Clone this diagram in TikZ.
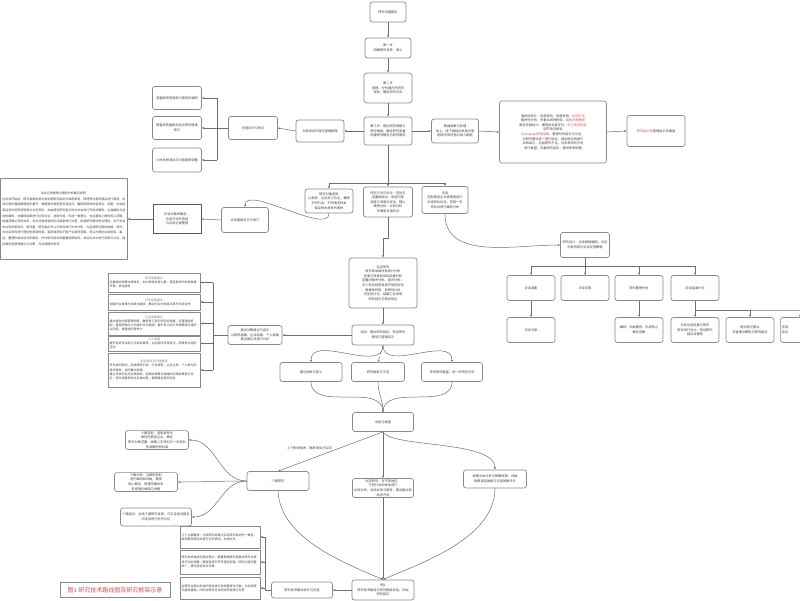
\documentclass[tikz,border=0pt]{standalone}
\usepackage{fontspec}
\setmainfont{Noto Sans CJK SC}
\XeTeXlinebreaklocale "zh"
\XeTeXlinebreakskip=0pt
\usetikzlibrary{arrows.meta}
\definecolor{lc}{HTML}{6E6E6E}
\definecolor{bc}{HTML}{8A8A8A}
\definecolor{rt}{HTML}{E04B4B}
\begin{document}
\begin{tikzpicture}[x=1pt,y=-1pt,
 box/.style={draw=bc,line width=0.7pt,rounded corners=2.5pt,fill=white,align=center,inner sep=1pt,text=black!75,font=\fontsize{3.2}{4.6}\selectfont},
 sq/.style={draw=bc,line width=0.6pt,fill=white,align=left,inner sep=1.5pt,text=black!75,font=\fontsize{3}{4.2}\selectfont},
 lbl/.style={inner sep=0.5pt,text=black!75,font=\fontsize{3.2}{4.6}\selectfont},
 ln/.style={draw=lc,line width=0.5pt},
 arr/.style={ln,-{Latex[length=2.2pt,width=2pt]}}]
\fill[white] (0,0) rectangle (800,600);
\useasboundingbox (0,0) rectangle (800,600);

% ---------- main column top ----------
\node[box,minimum width=36pt,minimum height=20pt,text width=32pt] (n1) at (388,12) {研究问题提出};
\node[box,minimum width=46pt,minimum height=20pt,text width=42pt] (n2) at (388,48) {第一步\\明确研究背景、意义};
\node[box,minimum width=48pt,minimum height=30pt,text width=45pt] (n3) at (388,88) {第二步\\梳理、分析国内外研究\\现状，确定研究方向};
\node[box,minimum width=48pt,minimum height=28pt,text width=45pt] (n4) at (388,131) {第三步：提出研究思路与\\理论框架，确定研究变量\\构建研究模型与研究假设};

% ---------- left chain ----------
\node[box,minimum width=48pt,minimum height=22pt,text width=44pt] (n5) at (320,131) {文献综述与理论基础梳理};
\node[box,minimum width=49pt,minimum height=23pt,text width=45pt] (n6) at (253,128) {问卷设计与修正};
\node[box,minimum width=49pt,minimum height=23pt,text width=46pt] (L1) at (177,98) {测量题项来源及问卷初步编制};
\node[box,minimum width=49pt,minimum height=23pt,text width=46pt] (L2) at (177,128) {借鉴成熟量表并结合研究情境\\修订};
\node[box,minimum width=49pt,minimum height=24pt,text width=46pt] (L3) at (177,160) {小样本预测试与问卷题项调整};

% ---------- right chain ----------
\node[box,minimum width=47pt,minimum height=24pt,text width=45pt] (n7) at (455,131) {数据收集与处理\\线上、线下相结合发放问卷\\剔除无效问卷后录入数据};
\node[box,minimum width=107pt,minimum height=62pt,text width=102pt] (n8) at (553,132) {描述性统计、信度检验、效度检验、\textcolor{rt}{共同方法}\\相关性分析、多重共线性检验，\textcolor{rt}{结构方程模型}\\路径系数估计，模型拟合度评价，\textcolor{rt}{中介效应检验}\\调节效应检验\\\textcolor{rt}{Bootstrap检验结果}，整理分析结论与讨论，\\对研究假设逐一进行验证，提出理论贡献与\\实践启示，总结研究不足，对未来研究方向\\进行展望，完善研究结论，提供参考依据};
\node[box,minimum width=58pt,minimum height=31pt,text width=55pt] (n9) at (656,131) {\textcolor{rt}{研究结论}与管理启示及展望};

% ---------- second level ----------
\node[box,minimum width=48pt,minimum height=24pt,text width=46pt] (A) at (329,201) {研究对象选取\\以高校、企业员工为主，兼顾\\不同行业、不同地区样本\\保证样本具有代表性};
\node[box,minimum width=49pt,minimum height=30pt,text width=47pt] (B) at (388,202) {研究方法与设计：定性与\\定量相结合，采用问卷\\调查与深度访谈法，辅以\\案例分析、比较分析\\多维度互相印证};
\node[box,minimum width=46pt,minimum height=27pt,text width=44pt] (C) at (445,200) {访谈\\选取典型企业管理者进行\\半结构化访谈，获取一手\\资料并进行编码分析};
\node[box,minimum width=47pt,minimum height=25pt,text width=44pt] (D) at (245,220) {访谈提纲设计与修订};
\node[draw=black!65,line width=0.9pt,fill=white,align=center,inner sep=1pt,text=black!75,font=\fontsize{3.2}{4.6}\selectfont,minimum width=48pt,minimum height=29pt,text width=45pt] (E) at (177,219) {访谈对象的确定、访谈方式的选择\\与访谈记录整理};
\node[sq,anchor=north west,minimum width=127pt,minimum height=81pt,text width=123pt,font=\fontsize{3}{5.6}\selectfont] (F) at (0,178) {\hfill 访谈记录整理与编码分析要点说明 \hfill\null\\在访谈开始前，研究者需向受访者说明研究目的与保密原则，取得受访者同意后进行录音。访谈过程中围绕提纲逐步展开，根据受访者回答灵活追问，确保获取的信息真实、完整。访谈结束后及时将录音转录为文字资料，并由两名研究者分别对文本进行开放式编码、主轴编码与选择性编码，对编码结果进行比较讨论，消除分歧，形成一致意见。在此基础上提炼核心范畴，构建范畴之间的关系，并与问卷调查的实证结果进行对照，检验研究假设的合理性。对于访谈中出现的新观点、新问题，研究者应予以记录并进行补充分析，为后续研究提供依据。同时，对访谈资料进行理论饱和度检验，若新增资料不再产生新的范畴，则认为理论达到饱和。最后，整理形成访谈分析报告，作为研究结论的重要支撑材料，并在论文中进行说明与讨论，提出相应的管理建议与对策，为实践提供参考。};

% ---------- interview tree ----------
\node[box,minimum width=49pt,minimum height=25pt,text width=46pt] (H) at (585,245) {研究设计：访谈提纲编制，访谈\\对象选取与访谈实施策略};
\node[box,minimum width=48pt,minimum height=25pt,text width=45pt] (c1) at (531,288) {访谈准备};
\node[box,minimum width=48pt,minimum height=25pt,text width=45pt] (c2) at (585,288) {访谈实施};
\node[box,minimum width=48pt,minimum height=25pt,text width=45pt] (c3) at (639,288) {资料整理分析};
\node[box,minimum width=48pt,minimum height=25pt,text width=45pt] (c4) at (695,288) {访谈结果讨论};
\node[box,minimum width=48pt,minimum height=25pt,text width=45pt] (d1) at (531,330) {访谈记录};
\node[box,minimum width=48pt,minimum height=25pt,text width=45pt] (d3) at (639,330) {编码、归纳提炼，形成核心\\概念范畴};
\node[box,minimum width=48pt,minimum height=25pt,text width=45pt] (d4) at (695,330) {分析访谈结果与研究\\假设进行对比，验证研究\\结论合理性};
\node[box,minimum width=48pt,minimum height=25pt,text width=45pt] (d5) at (750,330) {提出修正建议\\完善理论模型与研究结论};
\node[box,anchor=west,minimum width=48pt,minimum height=25pt,text width=45pt,align=left] (d6) at (780,330) {形成\\结论};

% ---------- empirical part ----------
\node[box,minimum width=68pt,minimum height=50pt,text width=65pt] (G) at (383,283) {实证研究\\研究样本描述性统计分析\\信度与效度检验及结果分析\\变量间相关分析、回归分析、\\中介效应检验及调节效应检验\\稳健性检验、异质性分析\\内生性讨论、结果汇总说明\\研究结论与假设验证};
\node[box,minimum width=62pt,minimum height=20pt,text width=60pt] (I) at (383,335) {结论：提出研究结论、验证研究\\假设与管理启示};
\node[box,minimum width=54pt,minimum height=19pt,text width=52pt] (J) at (255,335) {提出对策建议与启示\\从政府层面、企业层面、个人层面\\提出建议并进行讨论};
\node[sq,minimum width=92pt,minimum height=19pt,text width=89pt] (S1) at (154,282.5) {\hfill{\color{black!50}政府层面建议}\hfill\null\\完善相关政策法规体系，加大财政支持力度，营造良好的外部发展环境，优化服务};
\node[sq,minimum width=92pt,minimum height=16pt,text width=89pt] (S2) at (154,302) {\hfill{\color{black!50}行业层面建议}\hfill\null\\加强行业自律与标准化建设，推动行业内信息共享与交流合作};
\node[sq,minimum width=92pt,minimum height=23pt,text width=89pt] (S3) at (154,323.5) {\hfill{\color{black!50}企业层面建议}\hfill\null\\建立健全内部管理制度，重视员工培训与职业发展，完善激励机制，营造积极向上的组织文化氛围，提升员工的工作满意度与组织认同感，增强组织竞争力};
\node[sq,minimum width=92pt,minimum height=15pt,text width=89pt] (S4) at (154,343.5) {\hfill{\color{black!50}个人层面}\hfill\null\\提升自身专业能力与综合素质，主动适应环境变化，积极参与组织活动};
\node[sq,minimum width=92pt,minimum height=34pt,text width=89pt] (S5) at (154,370) {\hfill{\color{black!50}综合建议与实施路径}\hfill\null\\多方协同联动，形成政府引导、行业规范、企业主导、个人参与的良好格局，共同推动发展。\\建立长效评估与反馈机制，定期对政策与措施的实施效果进行评价，及时调整和优化实施方案，保障建议落实到位};

\node[box,minimum width=62pt,minimum height=19pt,text width=59pt] (K1) at (311,372) {理论贡献与意义};
\node[box,minimum width=53pt,minimum height=19pt,text width=50pt] (K2) at (378,372) {研究局限与不足};
\node[box,minimum width=61pt,minimum height=19pt,text width=59pt] (K3) at (452,372) {未来研究展望、进一步研究方向};
\node[box,minimum width=61pt,minimum height=19pt,text width=58pt] (L) at (383,422) {总结与展望};

% ---------- lower part ----------
\node[box,minimum width=62pt,minimum height=19pt,text width=59pt] (N) at (278,481) {个案研究};
\node[box,minimum width=63pt,minimum height=17pt,text width=61pt] (O1) at (157,440) {个案选取：选取具有代表性的典型企业，确定\\研究对象范围，收集二手资料与一手资料\\形成案例资料库};
\node[box,minimum width=63pt,minimum height=18pt,text width=61pt] (O2) at (146,482) {个案分析：对案例资料进行编码和归纳，提炼\\核心概念，梳理范畴关系\\形成理论框架与命题};
\node[box,minimum width=71pt,minimum height=18pt,text width=69pt] (O3) at (156,517) {个案结论：总结个案研究发现，与实证结论相互\\印证并进行补充讨论};
\node[box,minimum width=61pt,minimum height=19pt,text width=59pt] (P) at (383,488) {比较研究：对不同地区、不同行业的样本进行\\比较分析，总结共性与差异，提出建议和\\改进方向};
\node[box,minimum width=63pt,minimum height=18pt,text width=61pt] (Q) at (495,479) {政策文本分析与政策梳理，归纳\\政策演变脉络与实施效果评价};
\node[box,minimum width=62pt,minimum height=20pt,text width=60pt] (R) at (383,590) {图1\\研究技术路线与研究框架总结，归纳\\研究结论};
\node[box,minimum width=61pt,minimum height=16pt,text width=59pt] (S) at (302,590) {研究技术路线设计与实施};
\node[sq,minimum width=80pt,minimum height=22pt,text width=77pt] (T1) at (220,537) {几个主要要求：比较研究结果与实证研究结论的一致性，梳理差异原因并进行讨论说明，形成补充};
\node[sq,minimum width=80pt,minimum height=24pt,text width=77pt] (T2) at (220,562) {研究技术路线实施过程中，需要根据研究进展对研究方案进行动态调整，确保各研究环节相互衔接，研究内容完整统一，研究结论科学可靠};
\node[sq,minimum width=80pt,minimum height=22pt,text width=77pt] (T3) at (220,588) {对研究过程中形成的资料进行系统整理与归档，为后续研究提供基础，同时对研究方法的适用性进行反思};
\node[draw=bc,line width=0.5pt,fill=white,inner sep=1pt,text=rt,font=\fontsize{6}{7}\selectfont,minimum width=110pt,minimum height=15pt] (U) at (115,590) {图1 研究技术路线图及研究框架示意};

% ================= connectors =================
\draw[arr] (n1.south) -- (n2.north);
\draw[arr] (n2.south) -- (n3.north);
\draw[arr] (n3.south) -- (n4.north);
\draw[arr] (n4.west) -- (n5.east);
\draw[arr] (n5.west) -- (n6.east);
\coordinate (b1) at (217,128);
\coordinate (b1t) at (217,98);
\coordinate (b1b) at (217,160);
\draw[ln] (n6.west) -- (b1);
\draw[ln] (b1t) -- (b1b);
\draw[arr] (b1t) -- (L1.east);
\draw[arr] (b1) -- (L2.east);
\draw[arr] (b1b) -- (L3.east);
\draw[arr] (n4.east) -- (n7.west);
\draw[arr] (n7.east) -- (n8.west);
\draw[arr] (n8.east) -- (n9.west);

\coordinate (t0) at (388,183);
\draw[ln] (n4.south) -- (t0);
\draw[arr] (t0) -| (A.north);
\draw[arr] (t0) -- (B.north);
\draw[arr] (t0) -| (C.north);
\draw[arr] (A.south) .. controls (329,236) and (245,184) .. (D.north);
\draw[arr] (D.west) -- (E.east);
\draw[arr] (E.west) -- (F.east |- E.west);

\coordinate (bg) at (388,238);
\draw[arr] (B.south) -- (bg) -| (G.north);
\draw[arr] (C.south) to[out=-90,in=180] (H.west);

\coordinate (h0) at (585,266);
\coordinate (hl) at (531,266);
\coordinate (h3) at (639,266);
\coordinate (hr) at (695,266);
\draw[ln] (H.south) -- (h0);
\draw[ln] (hl) -- (hr);
\draw[arr] (hl) -- (c1.north);
\draw[arr] (h0) -- (c2.north);
\draw[arr] (h3) -- (c3.north);
\draw[arr] (hr) -- (c4.north);
\draw[arr] (c1.south) -- (d1.north);
\draw[arr] (c3.south) -- (d3.north);
\coordinate (r4) at (695,310);
\coordinate (r5) at (750,310);
\coordinate (r6) at (800,310);
\draw[ln] (c4.south) -- (r4) -- (r6) -- ++(30,0);
\draw[arr] (r4) -- (d4.north);
\draw[arr] (r5) -- (d5.north);
\draw[arr] (r6) -- (r6 |- d6.north);

\draw[arr] (G.south) -- (I.north);
\draw[arr] (I.west) -- (J.east);
\coordinate (jb) at (213,335);
\draw[ln] (J.west) -- (jb);
\draw[ln] (jb |- S1.east) -- (jb |- S5.east);
\foreach \s in {S1,S2,S3,S4,S5} \draw[arr] (jb |- \s.east) -- (\s.east);

\draw[arr] (I.south) to[out=-90,in=90] (K1.north);
\draw[arr,dashed] (I.south) -- (K2.north);
\draw[arr] (I.south) to[out=-90,in=90] (K3.north);
\draw[ln] (K1.south) to[out=-90,in=90] (L.north);
\draw[arr] (K2.south) to[out=-90,in=90] (L.north);
\draw[ln] (K3.south) to[out=-90,in=90] (L.north);

\draw[arr] (L.south) -- (N.north) node[lbl,pos=0.48,above left=0pt] (M) {上下影响相关，都影响后方实际};
\draw[arr] (L.south) -- (P.north);
\draw[arr] (L.south) .. controls (392,448) and (495,440) .. (Q.north);
\draw[arr] (N.west) to[out=180,in=0] (O1.east);
\draw[arr] (N.west) to[out=180,in=0] (O2.east);
\draw[arr] (N.west) to[out=180,in=0] (O3.east);
\draw[arr] (N.south) .. controls (280,540) and (350,565) .. (R.north);
\draw[arr] (P.south) -- (R.north);
\draw[arr] (Q.south) .. controls (495,540) and (415,565) .. (R.north);
\draw[arr] (R.west) -- (S.east);
\coordinate (tb) at (265,590);
\draw[ln] (S.west) -- (tb);
\draw[ln] (tb |- T1.east) -- (tb);
\foreach \s in {T1,T2,T3} \draw[arr] (tb |- \s.east) -- (\s.east);
\end{tikzpicture}
\end{document}
